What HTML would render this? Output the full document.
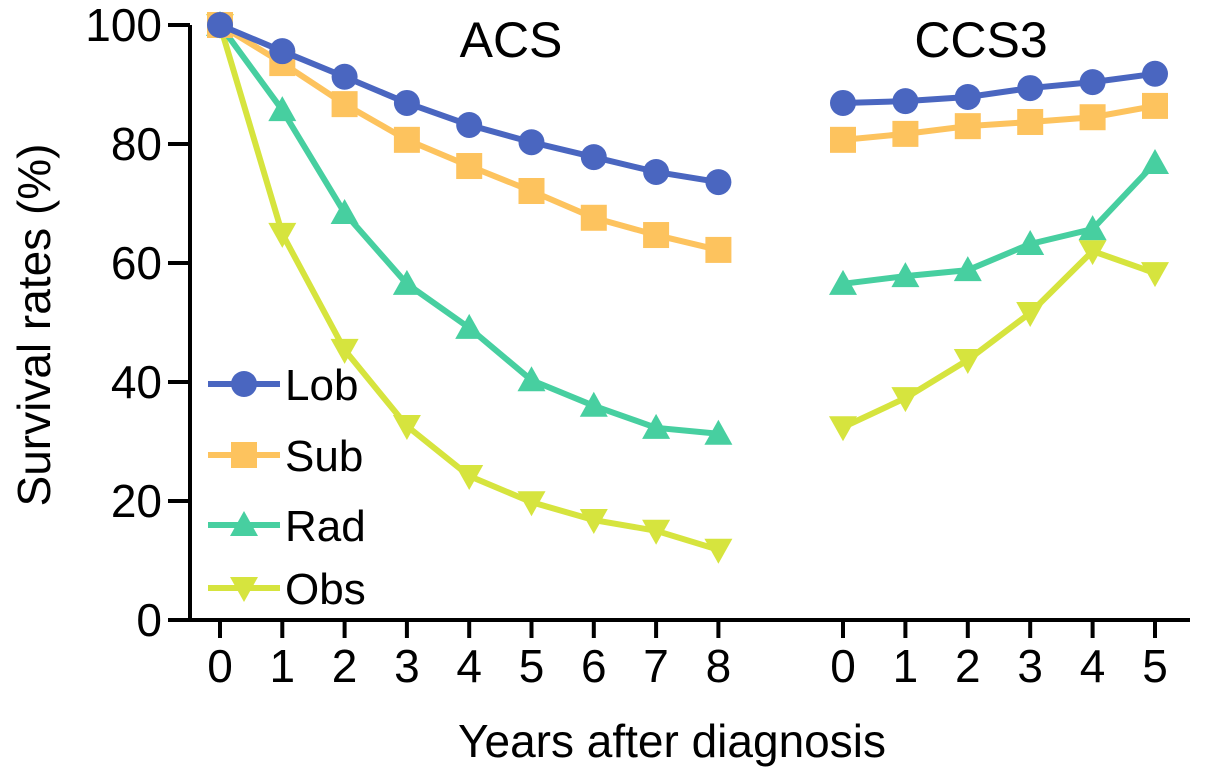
<!DOCTYPE html>
<html><head><meta charset="utf-8"><style>
body{margin:0;background:#fff}
svg{display:block;font-family:"Liberation Sans",Arial,sans-serif}
</style></head><body>
<svg id="chart" width="1205" height="778" viewBox="0 0 1205 778"></svg>
<script>
const acsYears=[0,1,2,3,4,5,6,7,8];
const ccsYears=[0,1,2,3,4,5];
const yTicks=[0,20,40,60,80,100];
const seriesNames=['Lob','Sub','Rad','Obs'];
const lobACS=[100,95.6,91.3,86.9,83.2,80.3,77.8,75.3,73.6];
const subACS=[100,93.6,86.7,80.7,76.3,72.1,67.6,64.7,62.2];
const radACS=[100,85.7,68.4,56.5,49.1,40.3,36,32.3,31.3];
const obsACS=[100,64.9,45.4,32.6,24.2,19.8,16.8,15,11.8];
const lobCCS=[86.9,87.2,87.9,89.4,90.4,91.8];
const subCCS=[80.7,81.7,83,83.7,84.5,86.4];
const radCCS=[56.5,57.8,58.8,63.2,65.7,76.8];
const obsCCS=[32.4,37.3,43.7,51.6,62,58.3];

const NS='http://www.w3.org/2000/svg';
const svg=document.getElementById('chart');
const y=v=>620-v*5.95;
const xA=i=>220+i*62.3;
const xC=i=>843+i*62.4;
function mk(tag,attrs,parent){const e=document.createElementNS(NS,tag);for(const k in attrs)e.setAttribute(k,attrs[k]);(parent||svg).appendChild(e);return e;}
const colors={Lob:'#4a66c0',Sub:'#fdc35e',Rad:'#47cfa0',Obs:'#d6e43e'};
function marker(name,cx,cy,g){
  const s=13;let e;
  if(name==='Lob')e=mk('circle',{cx:cx,cy:cy,r:13,fill:colors[name]},g);
  else if(name==='Sub')e=mk('rect',{x:cx-s,y:cy-s,width:2*s,height:2*s,fill:colors[name]},g);
  else if(name==='Rad')e=mk('polygon',{points:`${cx},${cy-14} ${cx+14},${cy+11} ${cx-14},${cy+11}`,fill:colors[name]},g);
  else e=mk('polygon',{points:`${cx},${cy+14} ${cx+14},${cy-11} ${cx-14},${cy-11}`,fill:colors[name]},g);
  
  
}
const ax=mk('g',{});


mk('line',{x1:190,y1:25,x2:190,y2:622,stroke:'#000','stroke-width':4},ax);
mk('line',{x1:168,y1:620,x2:1190,y2:620,stroke:'#000','stroke-width':4},ax);
yTicks.forEach(t=>{
  mk('line',{x1:168,y1:y(t),x2:190,y2:y(t),stroke:'#000','stroke-width':4},ax);
  const tx=mk('text',{x:162,y:y(t)+16,'text-anchor':'end','font-size':46},ax);tx.textContent=t;
  
  
});
function xt(xs,arr){arr.forEach((v,i)=>{
  mk('line',{x1:xs(i),y1:620,x2:xs(i),y2:638,stroke:'#000','stroke-width':4},ax);
  const tx=mk('text',{x:xs(i),y:682,'text-anchor':'middle','font-size':46},ax);tx.textContent=v;
  
  
});}
xt(xA,acsYears);xt(xC,ccsYears);
let t=mk('text',{x:672,y:757,'text-anchor':'middle','font-size':46});t.textContent='Years after diagnosis';

t=mk('text',{x:50,y:325,'text-anchor':'middle','font-size':46,transform:'rotate(-90 50 325)'});t.textContent='Survival rates (%)';

t=mk('text',{x:511,y:57,'text-anchor':'middle','font-size':50});t.textContent='ACS';

t=mk('text',{x:981,y:57,'text-anchor':'middle','font-size':50});t.textContent='CCS3';

const data={Lob:[lobACS,lobCCS],Sub:[subACS,subCCS],Rad:[radACS,radCCS],Obs:[obsACS,obsCCS]};
['Obs','Rad','Sub','Lob'].forEach(n=>{
  const g=mk('g',{});
  
  
  [[data[n][0],xA],[data[n][1],xC]].forEach(([vals,xs])=>{
    mk('polyline',{points:vals.map((v,i)=>xs(i)+','+y(v)).join(' '),fill:'none',stroke:colors[n],'stroke-width':6},g);
    vals.forEach((v,i)=>marker(n,xs(i),y(v),g));
  });
});
const legY=[384,455,525,588];
seriesNames.forEach((n,i)=>{
  const g=mk('g',{});
  
  
  mk('line',{x1:208,y1:legY[i],x2:280,y2:legY[i],stroke:colors[n],'stroke-width':6},g);
  marker(n,244,legY[i],g);
  const tx=mk('text',{x:285,y:legY[i]+16,'font-size':44},g);tx.textContent=n;
});
</script>
</body></html>
